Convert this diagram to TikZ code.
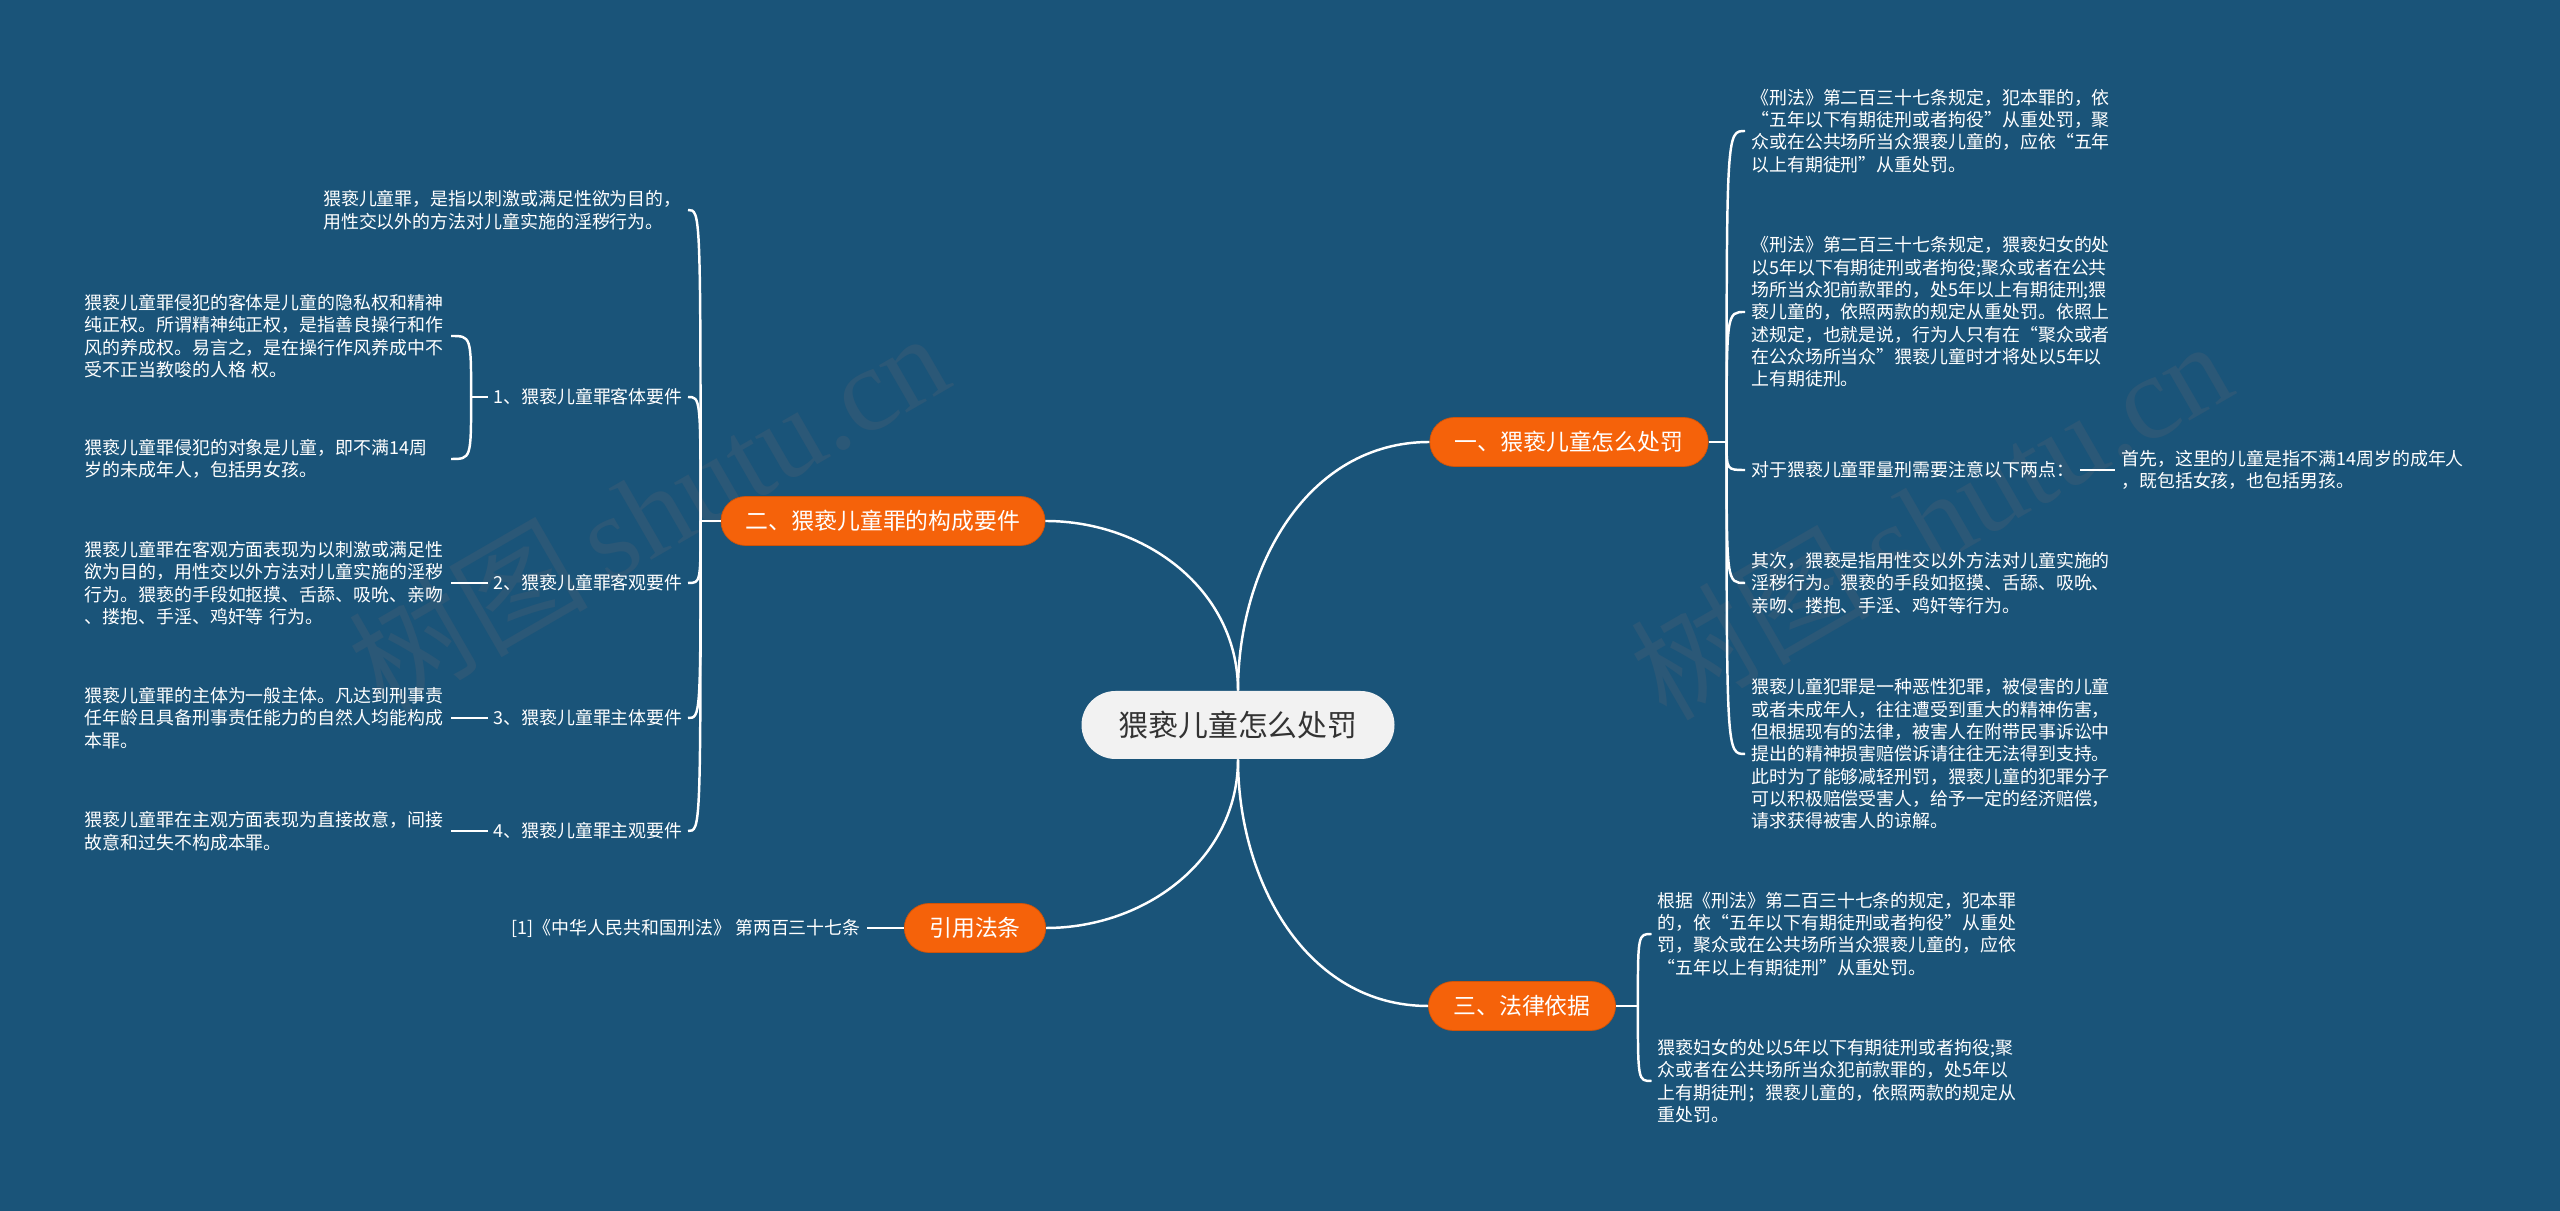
\documentclass[tikz,border=0pt]{standalone}
\usepackage{fontspec}
\setmainfont{Noto Sans CJK SC}
\newfontfamily\wmlatin{Liberation Serif}
\usetikzlibrary{calc}
\definecolor{mapbg}{HTML}{1A5479}
\definecolor{topicorange}{HTML}{F5620A}
\definecolor{rootfill}{HTML}{F2F2F2}
\definecolor{roottext}{HTML}{333333}
\definecolor{wmark}{HTML}{2B5877}
\tikzset{
  rootnode/.style={rectangle,rounded corners=0.68cm,minimum height=1.36cm,inner xsep=0.74cm,
    fill=rootfill,text=roottext,font=\fontsize{17}{20}\selectfont},
  maintopic/.style={rectangle,rounded corners=0.49cm,minimum height=0.98cm,inner xsep=0.5cm,
    fill=topicorange,draw=topicorange!85!black,line width=0.4pt,text=white,
    font=\fontsize{13}{15}\selectfont},
  subtopic/.style={text=white,inner sep=0.1cm,font=\fontsize{10.2}{12.7}\selectfont},
  leafnote/.style={text=white,inner sep=0.12cm,align=left,font=\fontsize{10.2}{12.7}\selectfont},
  leftnote/.style={leafnote,text width=7.2cm,anchor=east},
  branch/.style={draw=white,line width=1.4pt},
  wmtext/.style={text=wmark,rotate=30,font=\fontsize{68}{76}\selectfont},
}

\begin{document}
\begin{tikzpicture}
  \fill[mapbg] (0,0) rectangle (51.2,24.22);
  \useasboundingbox (0,0) rectangle (51.2,24.22);
  \node[wmtext] (wl) at (12.96,14.02) {树图\,{\wmlatin shutu.cn}};
  \node[wmtext] (wr) at (38.6,13.86) {树图\,{\wmlatin shutu.cn}};

  \node[rootnode] (root) at (24.76,9.72) {猥亵儿童怎么处罚};
  \node[maintopic] (pun) at (31.38,15.38) {一、猥亵儿童怎么处罚};
  \node[maintopic] (cons) at (17.66,13.8) {二、猥亵儿童罪的构成要件};
  \node[maintopic] (cite) at (19.5,5.66) {引用法条};
  \node[maintopic] (basis) at (30.44,4.1) {三、法律依据};

  \node[leafnote,anchor=west] (puna) at (34.9,21.6) {《刑法》第二百三十七条规定，犯本罪的，依\\“五年以下有期徒刑或者拘役”从重处罚，聚\\众或在公共场所当众猥亵儿童的，应依“五年\\以上有期徒刑”从重处罚。};
  \node[leafnote,anchor=west] (punb) at (34.9,17.98) {《刑法》第二百三十七条规定，猥亵妇女的处\\以5年以下有期徒刑或者拘役;聚众或者在公共\\场所当众犯前款罪的，处5年以上有期徒刑;猥\\亵儿童的，依照两款的规定从重处罚。依照上\\述规定，也就是说，行为人只有在“聚众或者\\在公众场所当众”猥亵儿童时才将处以5年以\\上有期徒刑。};
  \node[leafnote,anchor=west] (punc) at (34.9,14.82) {对于猥亵儿童罪量刑需要注意以下两点：};
  \node[leafnote,anchor=west] (puncx) at (42.3,14.82) {首先，这里的儿童是指不满14周岁的成年人\\，既包括女孩，也包括男孩。};
  \node[leafnote,anchor=west] (pund) at (34.9,12.56) {其次，猥亵是指用性交以外方法对儿童实施的\\淫秽行为。猥亵的手段如抠摸、舌舔、吸吮、\\亲吻、搂抱、手淫、鸡奸等行为。};
  \node[leafnote,anchor=west] (pune) at (34.9,9.14) {猥亵儿童犯罪是一种恶性犯罪，被侵害的儿童\\或者未成年人，往往遭受到重大的精神伤害，\\但根据现有的法律，被害人在附带民事诉讼中\\提出的精神损害赔偿诉请往往无法得到支持。\\此时为了能够减轻刑罚，猥亵儿童的犯罪分子\\可以积极赔偿受害人，给予一定的经济赔偿，\\请求获得被害人的谅解。};

  \node[leafnote,anchor=west] (basa) at (33.03,5.54) {根据《刑法》第二百三十七条的规定，犯本罪\\的，依“五年以下有期徒刑或者拘役”从重处\\罚，聚众或在公共场所当众猥亵儿童的，应依\\“五年以上有期徒刑”从重处罚。};
  \node[leafnote,anchor=west] (basb) at (33.03,2.6) {猥亵妇女的处以5年以下有期徒刑或者拘役;聚\\众或者在公共场所当众犯前款罪的，处5年以\\上有期徒刑；猥亵儿童的，依照两款的规定从\\重处罚。};

  \node[leafnote,anchor=east] (consa) at (13.76,20.02) {猥亵儿童罪，是指以刺激或满足性欲为目的，\\用性交以外的方法对儿童实施的淫秽行为。};
  \node[subtopic,anchor=east] (objt) at (13.76,16.28) {1、猥亵儿童罪客体要件};
  \node[subtopic,anchor=east] (objv) at (13.76,12.56) {2、猥亵儿童罪客观要件};
  \node[subtopic,anchor=east] (subj) at (13.76,9.86) {3、猥亵儿童罪主体要件};
  \node[subtopic,anchor=east] (intn) at (13.76,7.6) {4、猥亵儿童罪主观要件};
  \node[leftnote] (objta) at (9.02,17.5) {猥亵儿童罪侵犯的客体是儿童的隐私权和精神\\纯正权。所谓精神纯正权，是指善良操行和作\\风的养成权。易言之，是在操行作风养成中不\\受不正当教唆的人格 权。};
  \node[leftnote] (objtb) at (9.02,15.04) {猥亵儿童罪侵犯的对象是儿童，即不满14周\\岁的未成年人，包括男女孩。};
  \node[leftnote] (objva) at (9.02,12.56) {猥亵儿童罪在客观方面表现为以刺激或满足性\\欲为目的，用性交以外方法对儿童实施的淫秽\\行为。猥亵的手段如抠摸、舌舔、吸吮、亲吻\\、搂抱、手淫、鸡奸等 行为。};
  \node[leftnote] (subja) at (9.02,9.86) {猥亵儿童罪的主体为一般主体。凡达到刑事责\\任年龄且具备刑事责任能力的自然人均能构成\\本罪。};
  \node[leftnote] (intna) at (9.02,7.6) {猥亵儿童罪在主观方面表现为直接故意，间接\\故意和过失不构成本罪。};
  \node[leafnote,anchor=east] (citea) at (17.34,5.66) {[1]《中华人民共和国刑法》 第两百三十七条};

  \draw[branch] (root.north) to[out=90,in=180] (pun.west);
  \draw[branch] (root.north) to[out=90,in=0] (cons.east);
  \draw[branch] (root.south) to[out=-90,in=0] (cite.east);
  \draw[branch] (root.south) to[out=-90,in=180] (basis.west);

  \draw[branch] (pun.east) -- ++(0.36,0) coordinate (punk);
  \foreach \leaf in {puna,punb,punc,pund,pune}
    \draw[branch] (punk) .. controls (punk |- \leaf.west) .. (\leaf.west);
  \draw[branch] (punc.east) -- (puncx.west);

  \draw[branch] (basis.east) -- ++(0.44,0) coordinate (bask);
  \foreach \leaf in {basa,basb}
    \draw[branch] (bask) .. controls (bask |- \leaf.west) .. (\leaf.west);

  \draw[branch] (cons.west) -- ++(-0.4,0) coordinate (consk);
  \foreach \leaf in {consa,objt,objv,subj,intn}
    \draw[branch] (consk) .. controls (consk |- \leaf.east) .. (\leaf.east);
  \draw[branch] (objt.west) -- ++(-0.34,0) coordinate (objtk);
  \foreach \leaf in {objta,objtb}
    \draw[branch] (objtk) .. controls (objtk |- \leaf.east) .. (\leaf.east);
  \draw[branch] (objv.west) -- (objva.east);
  \draw[branch] (subj.west) -- (subja.east);
  \draw[branch] (intn.west) -- (intna.east);
  \draw[branch] (cite.west) -- (citea.east);
\end{tikzpicture}
\end{document}
